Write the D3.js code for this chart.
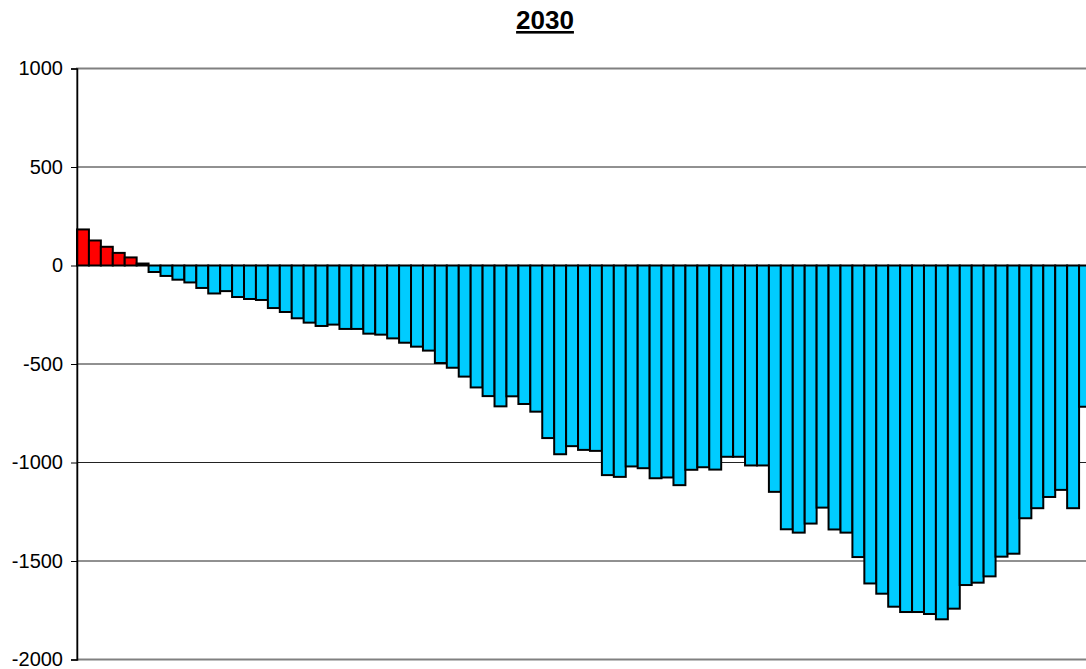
<!DOCTYPE html>
<html>
<head>
<meta charset="utf-8">
<script src="https://cdn.jsdelivr.net/npm/d3@7"></script>
<style>
  body { margin: 0; background: #fff; }
  svg { display: block; font-family: Arial, "Liberation Sans", sans-serif; }
</style>
</head>
<body>
<script>
var title = "2030";
// one value per bar (last bar is cut by the right edge)
var values = [183, 127, 95, 64, 41, 10, -33, -53, -72, -86,
    -114, -142, -130, -160, -170, -175, -216, -236, -268, -290,
    -307, -300, -322, -322, -346, -351, -370, -392, -412, -432,
    -495, -519, -564, -619, -663, -715, -664, -703, -742, -876,
    -958, -917, -936, -941, -1064, -1073, -1020, -1029, -1080, -1076,
    -1115, -1037, -1024, -1036, -971, -971, -1015, -1015, -1149, -1339,
    -1356, -1310, -1229, -1340, -1356, -1480, -1614, -1666, -1732, -1759,
    -1759, -1769, -1796, -1742, -1622, -1610, -1578, -1478, -1463, -1283,
    -1232, -1175, -1139, -1232, -717];
var yTicks = [1000, 500, 0, -500, -1000, -1500, -2000];

var svgW = 1086, svgH = 669,
    plotL = 77, plotT = 68.5, plotB = 659.5, plotR = 1091;

var svg = d3.select("body").append("svg")
    .attr("width", svgW)
    .attr("height", svgH);

var x = d3.scaleBand()
    .domain(values.map(function(d, i) { return i; }))
    .range([plotL, plotR])
    .padding(0);

var y = d3.scaleLinear()
    .domain([-2000, 1000])
    .range([plotB, plotT]);

// gridlines
svg.append("g")
    .selectAll("line")
    .data(yTicks.filter(function(d) { return d > -2000 && d < 1000; }))
    .enter().append("line")
    .attr("x1", plotL).attr("x2", svgW)
    .attr("y1", function(d) { return y(d); })
    .attr("y2", function(d) { return y(d); })
    .attr("stroke", "#222")
    .attr("stroke-width", 1);

// plot area border (top / bottom)
svg.append("rect")
    .attr("x", plotL).attr("y", y(1000))
    .attr("width", plotR - plotL + 10)
    .attr("height", y(-2000) - y(1000))
    .attr("fill", "none")
    .attr("stroke", "#808080")
    .attr("stroke-width", 2);

// bars
svg.append("g")
    .selectAll("rect")
    .data(values)
    .enter().append("rect")
    .attr("x", function(d, i) { return x(i); })
    .attr("width", x.bandwidth())
    .attr("y", function(d) { return y(Math.max(0, d)); })
    .attr("height", function(d) { return Math.abs(y(d) - y(0)); })
    .attr("fill", function(d) { return d >= 0 ? "#ff0000" : "#00ccff"; })
    .attr("stroke", "#000")
    .attr("stroke-width", 2);

// y axis, plain hyphen minus like the original
var yAxis = d3.axisLeft(y)
    .tickValues(yTicks)
    .tickSize(6)
    .tickPadding(8)
    .tickFormat(function(d) { return String(d); });

var ax = svg.append("g")
    .attr("transform", "translate(" + plotL + ",0)")
    .call(yAxis);
ax.select(".domain").attr("stroke", "#000").attr("stroke-width", 1.5);
ax.selectAll(".tick line").attr("stroke", "#000");
ax.selectAll(".tick text")
    .attr("font-size", 20)
    .attr("fill", "#000")
    .attr("font-family", "Arial, 'Liberation Sans', sans-serif");

// title
svg.append("text")
    .attr("x", 545)
    .attr("y", 29)
    .attr("text-anchor", "middle")
    .attr("font-size", 26)
    .attr("font-weight", "bold")
    .attr("text-decoration", "underline")
    .text(title);
</script>
</body>
</html>
